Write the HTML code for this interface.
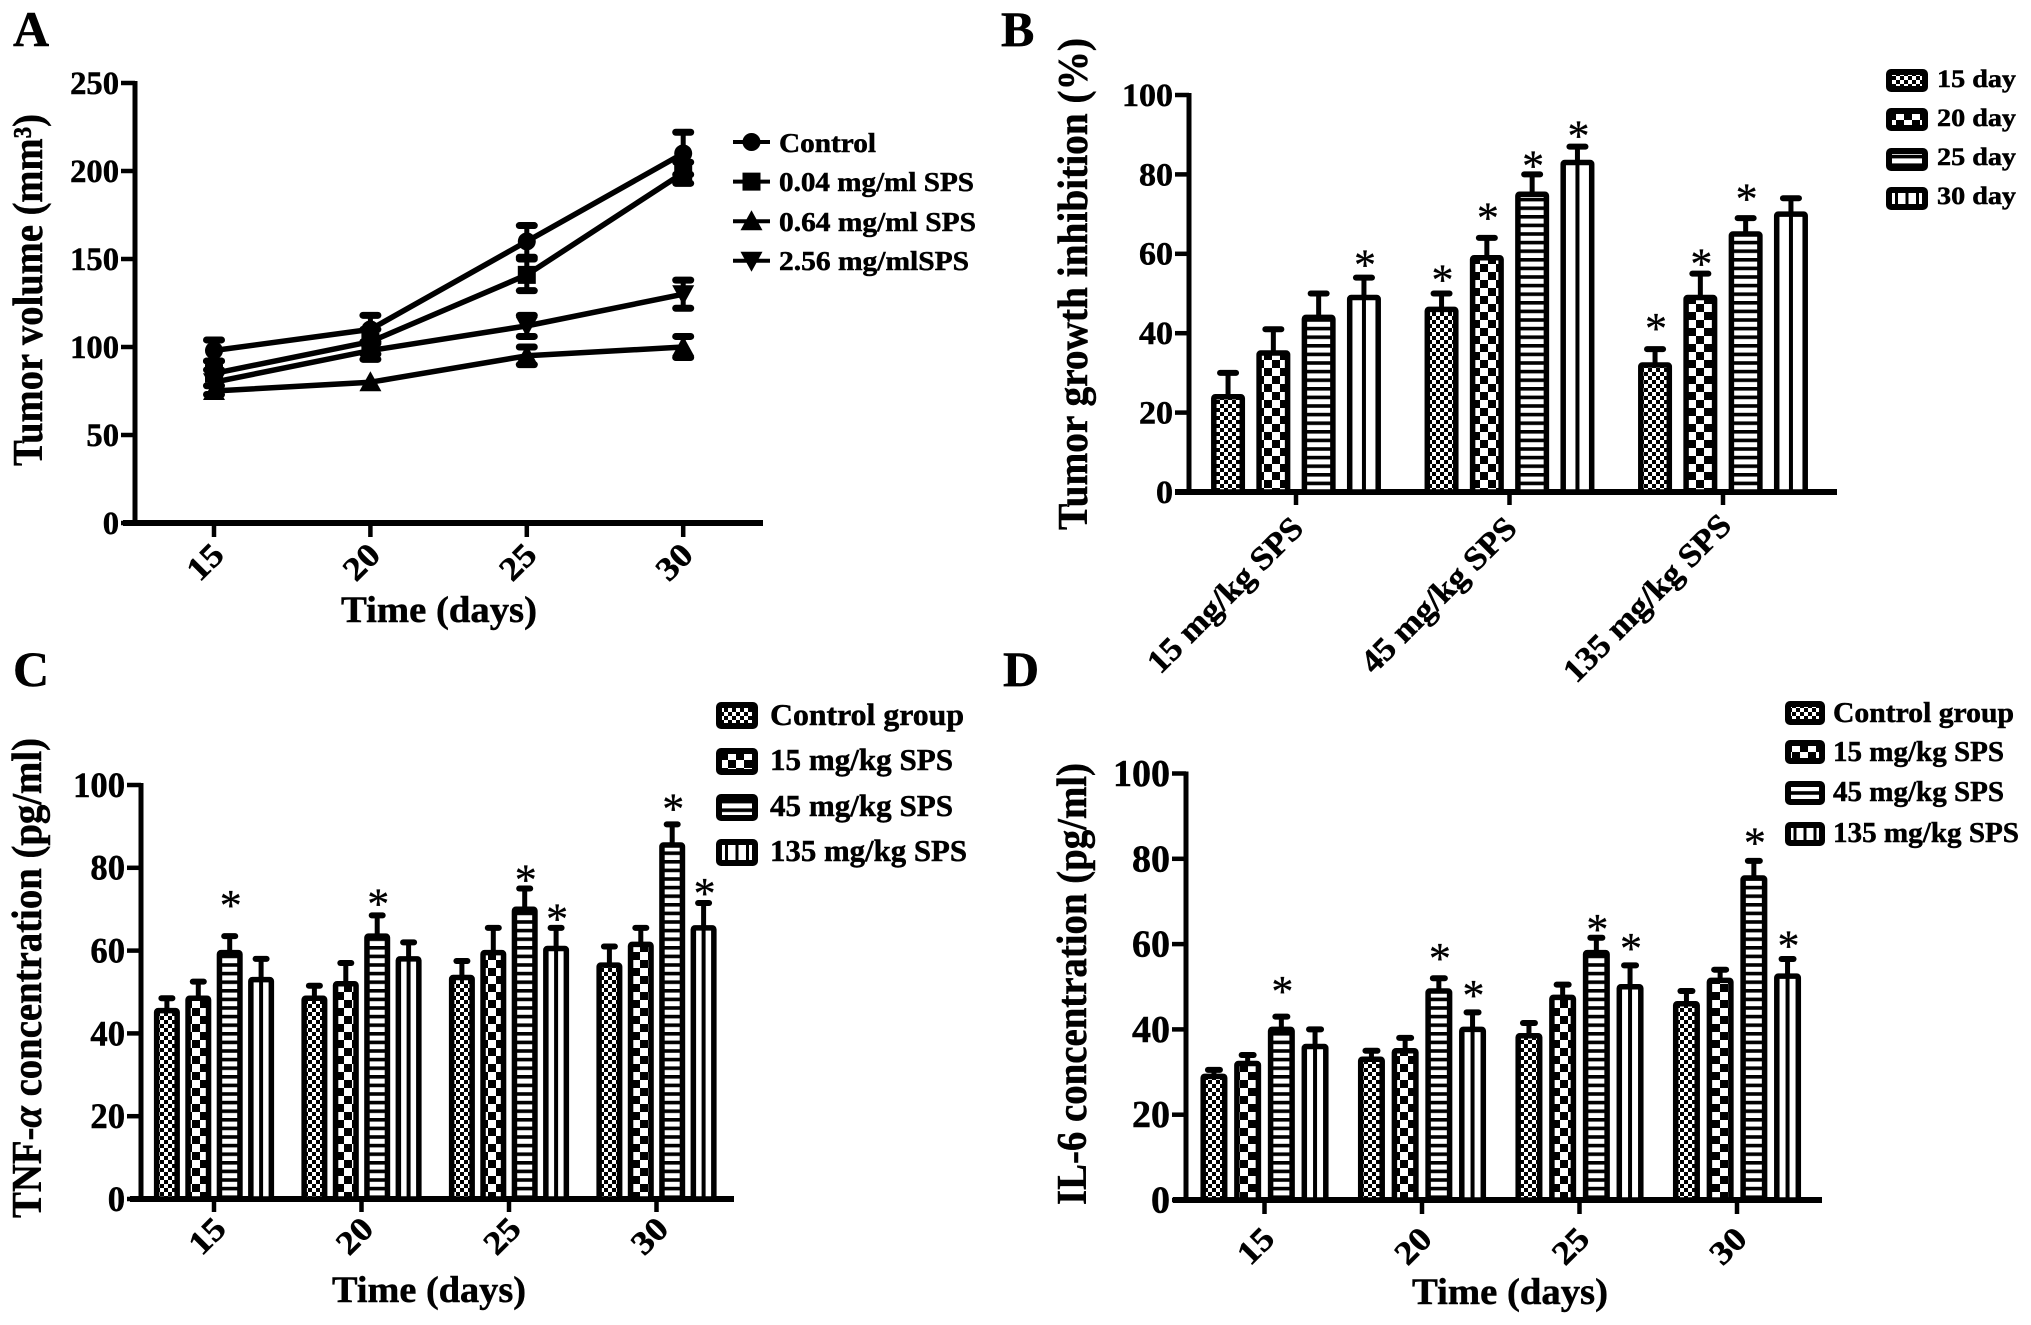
<!DOCTYPE html>
<html lang="en">
<head>
<meta charset="utf-8">
<title>SPS tumor figure</title>
<style>
html,body{margin:0;padding:0;background:#fff;}
svg{display:block;}
text{font-family:"Liberation Serif",serif;font-weight:bold;fill:#000;stroke:#000;stroke-width:.5px;}
.star{font-weight:normal;stroke-width:.3px;}
</style>
</head>
<body>
<svg id="fig" xmlns="http://www.w3.org/2000/svg" width="2031" height="1325" viewBox="0 0 2031 1325">
<defs>
  <pattern id="fine" patternUnits="userSpaceOnUse" width="8" height="8"><rect width="8" height="8" fill="#fff"/><rect width="4" height="4" fill="#000"/><rect x="4" y="4" width="4" height="4" fill="#000"/></pattern>
  <pattern id="coarse" patternUnits="userSpaceOnUse" width="16" height="16"><rect width="16" height="16" fill="#fff"/><rect width="8" height="8" fill="#000"/><rect x="8" y="8" width="8" height="8" fill="#000"/></pattern>
  <pattern id="hstripe" patternUnits="userSpaceOnUse" width="8" height="8.6"><rect width="8" height="8.6" fill="#fff"/><rect width="8" height="3.6" fill="#000"/></pattern>
</defs>

<text x="13" y="46" font-size="50">A</text>
<text x="1001" y="46" font-size="50">B</text>
<text x="13" y="686" font-size="50">C</text>
<text x="1003" y="686" font-size="50">D</text>

<text transform="translate(42,290) rotate(-90)" text-anchor="middle" font-size="42" textLength="352" lengthAdjust="spacingAndGlyphs">Tumor volume (mm³)</text>
<text x="439" y="622" text-anchor="middle" font-size="37" textLength="196" lengthAdjust="spacingAndGlyphs">Time (days)</text>
<text transform="translate(1087,284) rotate(-90)" text-anchor="middle" font-size="42" textLength="492" lengthAdjust="spacingAndGlyphs">Tumor growth inhibition (%)</text>
<text transform="translate(41,978) rotate(-90)" text-anchor="middle" font-size="42" textLength="480" lengthAdjust="spacingAndGlyphs">TNF-<tspan font-style="italic">α</tspan> concentration (pg/ml)</text>
<text x="429" y="1302" text-anchor="middle" font-size="37" textLength="194" lengthAdjust="spacingAndGlyphs">Time (days)</text>
<text transform="translate(1086,984) rotate(-90)" text-anchor="middle" font-size="42" textLength="442" lengthAdjust="spacingAndGlyphs">IL-6 concentration (pg/ml)</text>
<text x="1510" y="1304" text-anchor="middle" font-size="37" textLength="196" lengthAdjust="spacingAndGlyphs">Time (days)</text>

<text x="779" y="152" font-size="27" textLength="97" lengthAdjust="spacingAndGlyphs">Control</text>
<text x="779" y="191" font-size="27" textLength="195" lengthAdjust="spacingAndGlyphs">0.04 mg/ml SPS</text>
<text x="779" y="231" font-size="27" textLength="197" lengthAdjust="spacingAndGlyphs">0.64 mg/ml SPS</text>
<text x="779" y="270" font-size="27" textLength="190" lengthAdjust="spacingAndGlyphs">2.56 mg/mlSPS</text>

<text x="1937" y="87" font-size="25" textLength="79" lengthAdjust="spacingAndGlyphs">15 day</text>
<text x="1937" y="126" font-size="25" textLength="79" lengthAdjust="spacingAndGlyphs">20 day</text>
<text x="1937" y="165" font-size="25" textLength="79" lengthAdjust="spacingAndGlyphs">25 day</text>
<text x="1937" y="204" font-size="25" textLength="79" lengthAdjust="spacingAndGlyphs">30 day</text>

<text x="770" y="725" font-size="31" textLength="194" lengthAdjust="spacingAndGlyphs">Control group</text>
<text x="770" y="770" font-size="31" textLength="183" lengthAdjust="spacingAndGlyphs">15 mg/kg SPS</text>
<text x="770" y="816" font-size="31" textLength="183" lengthAdjust="spacingAndGlyphs">45 mg/kg SPS</text>
<text x="770" y="861" font-size="31" textLength="197" lengthAdjust="spacingAndGlyphs">135 mg/kg SPS</text>

<text x="1833" y="722" font-size="28" textLength="181" lengthAdjust="spacingAndGlyphs">Control group</text>
<text x="1833" y="761" font-size="28" textLength="171" lengthAdjust="spacingAndGlyphs">15 mg/kg SPS</text>
<text x="1833" y="801" font-size="28" textLength="171" lengthAdjust="spacingAndGlyphs">45 mg/kg SPS</text>
<text x="1833" y="842" font-size="28" textLength="186" lengthAdjust="spacingAndGlyphs">135 mg/kg SPS</text>
</svg>

<script>
// Panel A data
var aDays = ['15', '20', '25', '30'];
var aYTicks = [0, 50, 100, 150, 200, 250];
var aControl = [98, 110, 160, 210];
var aControlErr = [6, 8, 9, 12];
var aLow = [85, 103, 141, 199];
var aLowErr = [7, 7, 9, 6];
var aMid = [75, 80, 95, 100];
var aMidErr = [0, 0, 5, 6];
var aHigh = [80, 98, 112, 130];
var aHighErr = [7, 5, 6, 8];

// Panel B data (Sig = asterisk height above the error cap in axis units, 0 = none)
var bDoses = ['15 mg/kg SPS', '45 mg/kg SPS', '135 mg/kg SPS'];
var bYTicks = [0, 20, 40, 60, 80, 100];
var bDay15 = [24, 46, 32];
var bDay20 = [35, 59, 49];
var bDay25 = [44, 75, 65];
var bDay30 = [49, 83, 70];
var bErr15 = [6, 4, 4];
var bErr20 = [6, 5, 6];
var bErr25 = [6, 5, 4];
var bErr30 = [5, 4, 4];
var bSig15 = [0, 4.5, 6.3];
var bSig20 = [0, 6.2, 3.6];
var bSig25 = [0, 3.2, 6];
var bSig30 = [4.3, 3.8, 0];

// Panel C data
var cDays = ['15', '20', '25', '30'];
var cYTicks = [0, 20, 40, 60, 80, 100];
var cControl = [45.5, 48.5, 53.5, 56.5];
var c15 = [48.5, 52, 59.5, 61.5];
var c45 = [59.5, 63.5, 70, 85.5];
var c135 = [53, 58, 60.5, 65.5];
var cErrControl = [3, 3, 4, 4.5];
var cErr15 = [4, 5, 6, 4];
var cErr45 = [4, 5, 5, 5];
var cErr135 = [5, 4, 5, 6];
var cSigControl = [0, 0, 0, 0];
var cSig15 = [0, 0, 0, 0];
var cSig45 = [8.5, 3.9, 3.1, 4.8];
var cSig135 = [0, 0, 3.2, 3.4];

// Panel D data
var dDays = ['15', '20', '25', '30'];
var dYTicks = [0, 20, 40, 60, 80, 100];
var dControl = [29, 33, 38.5, 46];
var d15 = [32, 35, 47.5, 51.5];
var d45 = [40, 49, 58, 75.5];
var d135 = [36, 40, 50, 52.5];
var dErrControl = [1.5, 2, 3, 3];
var dErr15 = [2, 3, 3, 2.5];
var dErr45 = [3, 3, 3.5, 4];
var dErr135 = [4, 4, 5, 4];
var dSigControl = [0, 0, 0, 0];
var dSig15 = [0, 0, 0, 0];
var dSig45 = [7, 5.7, 3, 5.3];
var dSig135 = [0, 5, 5, 4.1];

var NS = 'http://www.w3.org/2000/svg';
var fig = document.getElementById('fig');

function mk(tag, attrs, parent) {
  var e = document.createElementNS(NS, tag);
  for (var k in attrs) { e.setAttribute(k, attrs[k]); }
  (parent || fig).appendChild(e);
  return e;
}
function yPos(p, v) { return p.y0 - (v / p.max) * (p.y0 - p.yTop); }
function xPos(p, i) { return p.xFirst + i * p.xStep; }

function drawAxes(p, ticks, cats) {
  var g = mk('g', {});
  
  
  var yAxis = mk('line', {x1: p.axisX, x2: p.axisX, y1: p.yTop - 2, y2: p.y0 + 2, stroke: '#000', 'stroke-width': 5}, g);
  
  
  var xAxis = mk('line', {x1: p.xLeft, x2: p.xRight, y1: p.y0, y2: p.y0, stroke: '#000', 'stroke-width': 6}, g);
  
  
  ticks.forEach(function (t) {
    var y = yPos(p, t);
    var tm = mk('line', {x1: p.axisX - 14, x2: p.axisX, y1: y, y2: y, stroke: '#000', 'stroke-width': 4.5}, g);
    
    
    var s = String(t);
    var lab = mk('text', {x: p.axisX - 16, y: y + p.tickFont * 0.33, 'text-anchor': 'end', 'font-size': p.tickFont,
      textLength: s.length * p.digitW, lengthAdjust: 'spacingAndGlyphs'}, g);
    lab.textContent = s;
    
    
  });
  cats.forEach(function (c, i) {
    var x = xPos(p, i);
    var tm = mk('line', {x1: x, x2: x, y1: p.y0, y2: p.tickBottom, stroke: '#000', 'stroke-width': 4.5}, g);
    
    
    var off = p.labelDx + (c.length > 12 ? -5 : 0);
    var lab = mk('text', {transform: 'translate(' + (x + off) + ',' + (p.labelY + (c.length > 12 ? 3 : 0)) + ') rotate(-45)',
      x: 0, y: p.labelFont * 0.33, 'text-anchor': 'middle', 'font-size': p.labelFont,
      textLength: c.length > 2 ? (c.length > 12 ? 222 : 205) : 37, lengthAdjust: 'spacingAndGlyphs'}, g);
    lab.textContent = c;
    
    
  });
}

var FILLS = ['url(#fine)', 'url(#coarse)', 'url(#hstripe)', '#fff'];

function drawBars(p, series, errs, sigs) {
  var nS = series.length;
  series.forEach(function (vals, s) {
    vals.forEach(function (v, i) {
      var cx = xPos(p, i) + (s - (nS - 1) / 2) * p.barStep;
      var yv = yPos(p, v), ye = yPos(p, v + errs[s][i]);
      var g = mk('g', {});
      
      
      var stem = mk('line', {x1: cx, x2: cx, y1: yv, y2: ye, stroke: '#000', 'stroke-width': 5}, g);
      
      
      var cap = mk('rect', {x: cx - p.capW / 2, y: ye - 3, width: p.capW, height: 6, rx: 3, fill: '#000'}, g);
      
      
      var bar = mk('rect', {x: cx - p.barW / 2 + 2.75, y: yv, width: p.barW - 5.5, height: Math.max(0, p.y0 - yv),
        rx: 1.5, fill: FILLS[s], stroke: '#000', 'stroke-width': 5.5}, g);
      
      
      if (s === 3) {
        var mid = mk('rect', {x: cx - 2, y: yv, width: 4, height: p.y0 - yv, fill: '#000'}, g);
        
        
      }
      var lift = sigs[s][i];
      if (lift) {
        var st = mk('text', {'class': 'star', x: cx + 1, y: yPos(p, v + errs[s][i] + lift) + 19, 'text-anchor': 'middle', 'font-size': 44}, g);
        st.textContent = '*';
        
        
      }
    });
  });
}

function drawSwatches(id, x, w, ys, h) {
  ys.forEach(function (y, s) {
    var sw = mk('rect', {x: x + 3, y: y + 3, width: w - 6, height: h - 6, rx: 2, fill: FILLS[s], stroke: '#000', 'stroke-width': 6});
    
    
    if (s === 3) {
      [0.25, 0.5, 0.75].forEach(function (f) {
        var l = mk('rect', {x: x + w * f - 1.5, y: y + 3, width: 3, height: h - 6, fill: '#000'});
        
        
      });
    }
  });
}

function markerPath(kind, x, y) {
  if (kind === 'circle') { return 'M' + (x - 9) + ' ' + y + 'a9 9 0 1 0 18 0a9 9 0 1 0 -18 0Z'; }
  if (kind === 'square') { return 'M' + (x - 9) + ' ' + (y - 9) + 'h18v18h-18Z'; }
  if (kind === 'up') { return 'M' + x + ' ' + (y - 11) + 'l11 20h-22Z'; }
  return 'M' + x + ' ' + (y + 11) + 'l11 -20h-22Z';
}

var panelA = {id: 'a', y0: 523, yTop: 83, max: 250, axisX: 135, xLeft: 123, xRight: 763, xFirst: 214, xStep: 156.4,
  tickBottom: 537, tickFont: 33, digitW: 16.3, labelDx: -9, labelY: 562, labelFont: 33};
var panelB = {id: 'b', y0: 492, yTop: 95, max: 100, axisX: 1189, xLeft: 1175, xRight: 1837, xFirst: 1296, xStep: 213.5,
  tickBottom: 505, tickFont: 33, digitW: 17, labelDx: -71, labelY: 595, labelFont: 33, barStep: 45.3, barW: 34, capW: 22};
var panelC = {id: 'c', y0: 1199, yTop: 785, max: 100, axisX: 141, xLeft: 130, xRight: 734, xFirst: 214, xStep: 147.5,
  tickBottom: 1212, tickFont: 36, digitW: 17.3, labelDx: -7, labelY: 1236, labelFont: 33, barStep: 31.4, barW: 26, capW: 17};
var panelD = {id: 'd', y0: 1200, yTop: 773.5, max: 100, axisX: 1186, xLeft: 1173, xRight: 1822, xFirst: 1264.5, xStep: 157.5,
  tickBottom: 1214, tickFont: 38, digitW: 19, labelDx: -9, labelY: 1246, labelFont: 33, barStep: 33.7, barW: 27, capW: 18};

// Panel A lines
drawAxes(panelA, aYTicks, aDays);
[[aControl, aControlErr, 'circle', 'control'], [aLow, aLowErr, 'square', 'low-dose'], [aMid, aMidErr, 'up', 'mid-dose'], [aHigh, aHighErr, 'down', 'high-dose']].forEach(function (row) {
  var vals = row[0], errs = row[1], kind = row[2], nm = row[3];
  var g = mk('g', {});
  
  
  var d = vals.map(function (v, i) { return (i ? 'L' : 'M') + xPos(panelA, i) + ' ' + yPos(panelA, v); }).join(' ');
  var line = mk('path', {d: d, fill: 'none', stroke: '#000', 'stroke-width': 5.5, 'stroke-linejoin': 'round'}, g);
  
  
  vals.forEach(function (v, i) {
    var x = xPos(panelA, i), hi = yPos(panelA, v + errs[i]), lo = yPos(panelA, v - errs[i]);
    if (errs[i] > 0) {
      var stem = mk('line', {x1: x, x2: x, y1: hi, y2: lo, stroke: '#000', 'stroke-width': 5}, g);
      
      
      [hi, lo].forEach(function (yy) {
        var cap = mk('rect', {x: x - 11, y: yy - 3.5, width: 22, height: 7, rx: 3.5, fill: '#000'}, g);
        
        
      });
    }
    var m = mk('path', {d: markerPath(kind, x, yPos(panelA, v)), fill: '#000'}, g);
    
    
  });
});

// Panel A legend keys
['circle', 'square', 'up', 'down'].forEach(function (kind, i) {
  var y = 142 + i * 39.6;
  var l = mk('line', {x1: 733, x2: 770, y1: y, y2: y, stroke: '#000', 'stroke-width': 4});
  
  
  var m = mk('path', {d: markerPath(kind, 751.5, y), fill: '#000'});
  
  
});

// Bar panels
drawAxes(panelB, bYTicks, bDoses);
drawBars(panelB, [bDay15, bDay20, bDay25, bDay30], [bErr15, bErr20, bErr25, bErr30], [bSig15, bSig20, bSig25, bSig30]);
drawSwatches('b', 1886, 42, [69, 108, 148, 187], 23);

drawAxes(panelC, cYTicks, cDays);
drawBars(panelC, [cControl, c15, c45, c135], [cErrControl, cErr15, cErr45, cErr135], [cSigControl, cSig15, cSig45, cSig135]);
drawSwatches('c', 716, 42, [702, 748, 794, 839], 27);

drawAxes(panelD, dYTicks, dDays);
drawBars(panelD, [dControl, d15, d45, d135], [dErrControl, dErr15, dErr45, dErr135], [dSigControl, dSig15, dSig45, dSig135]);
drawSwatches('d', 1785, 40, [701, 740, 781, 822], 24);
</script>
</body>
</html>
